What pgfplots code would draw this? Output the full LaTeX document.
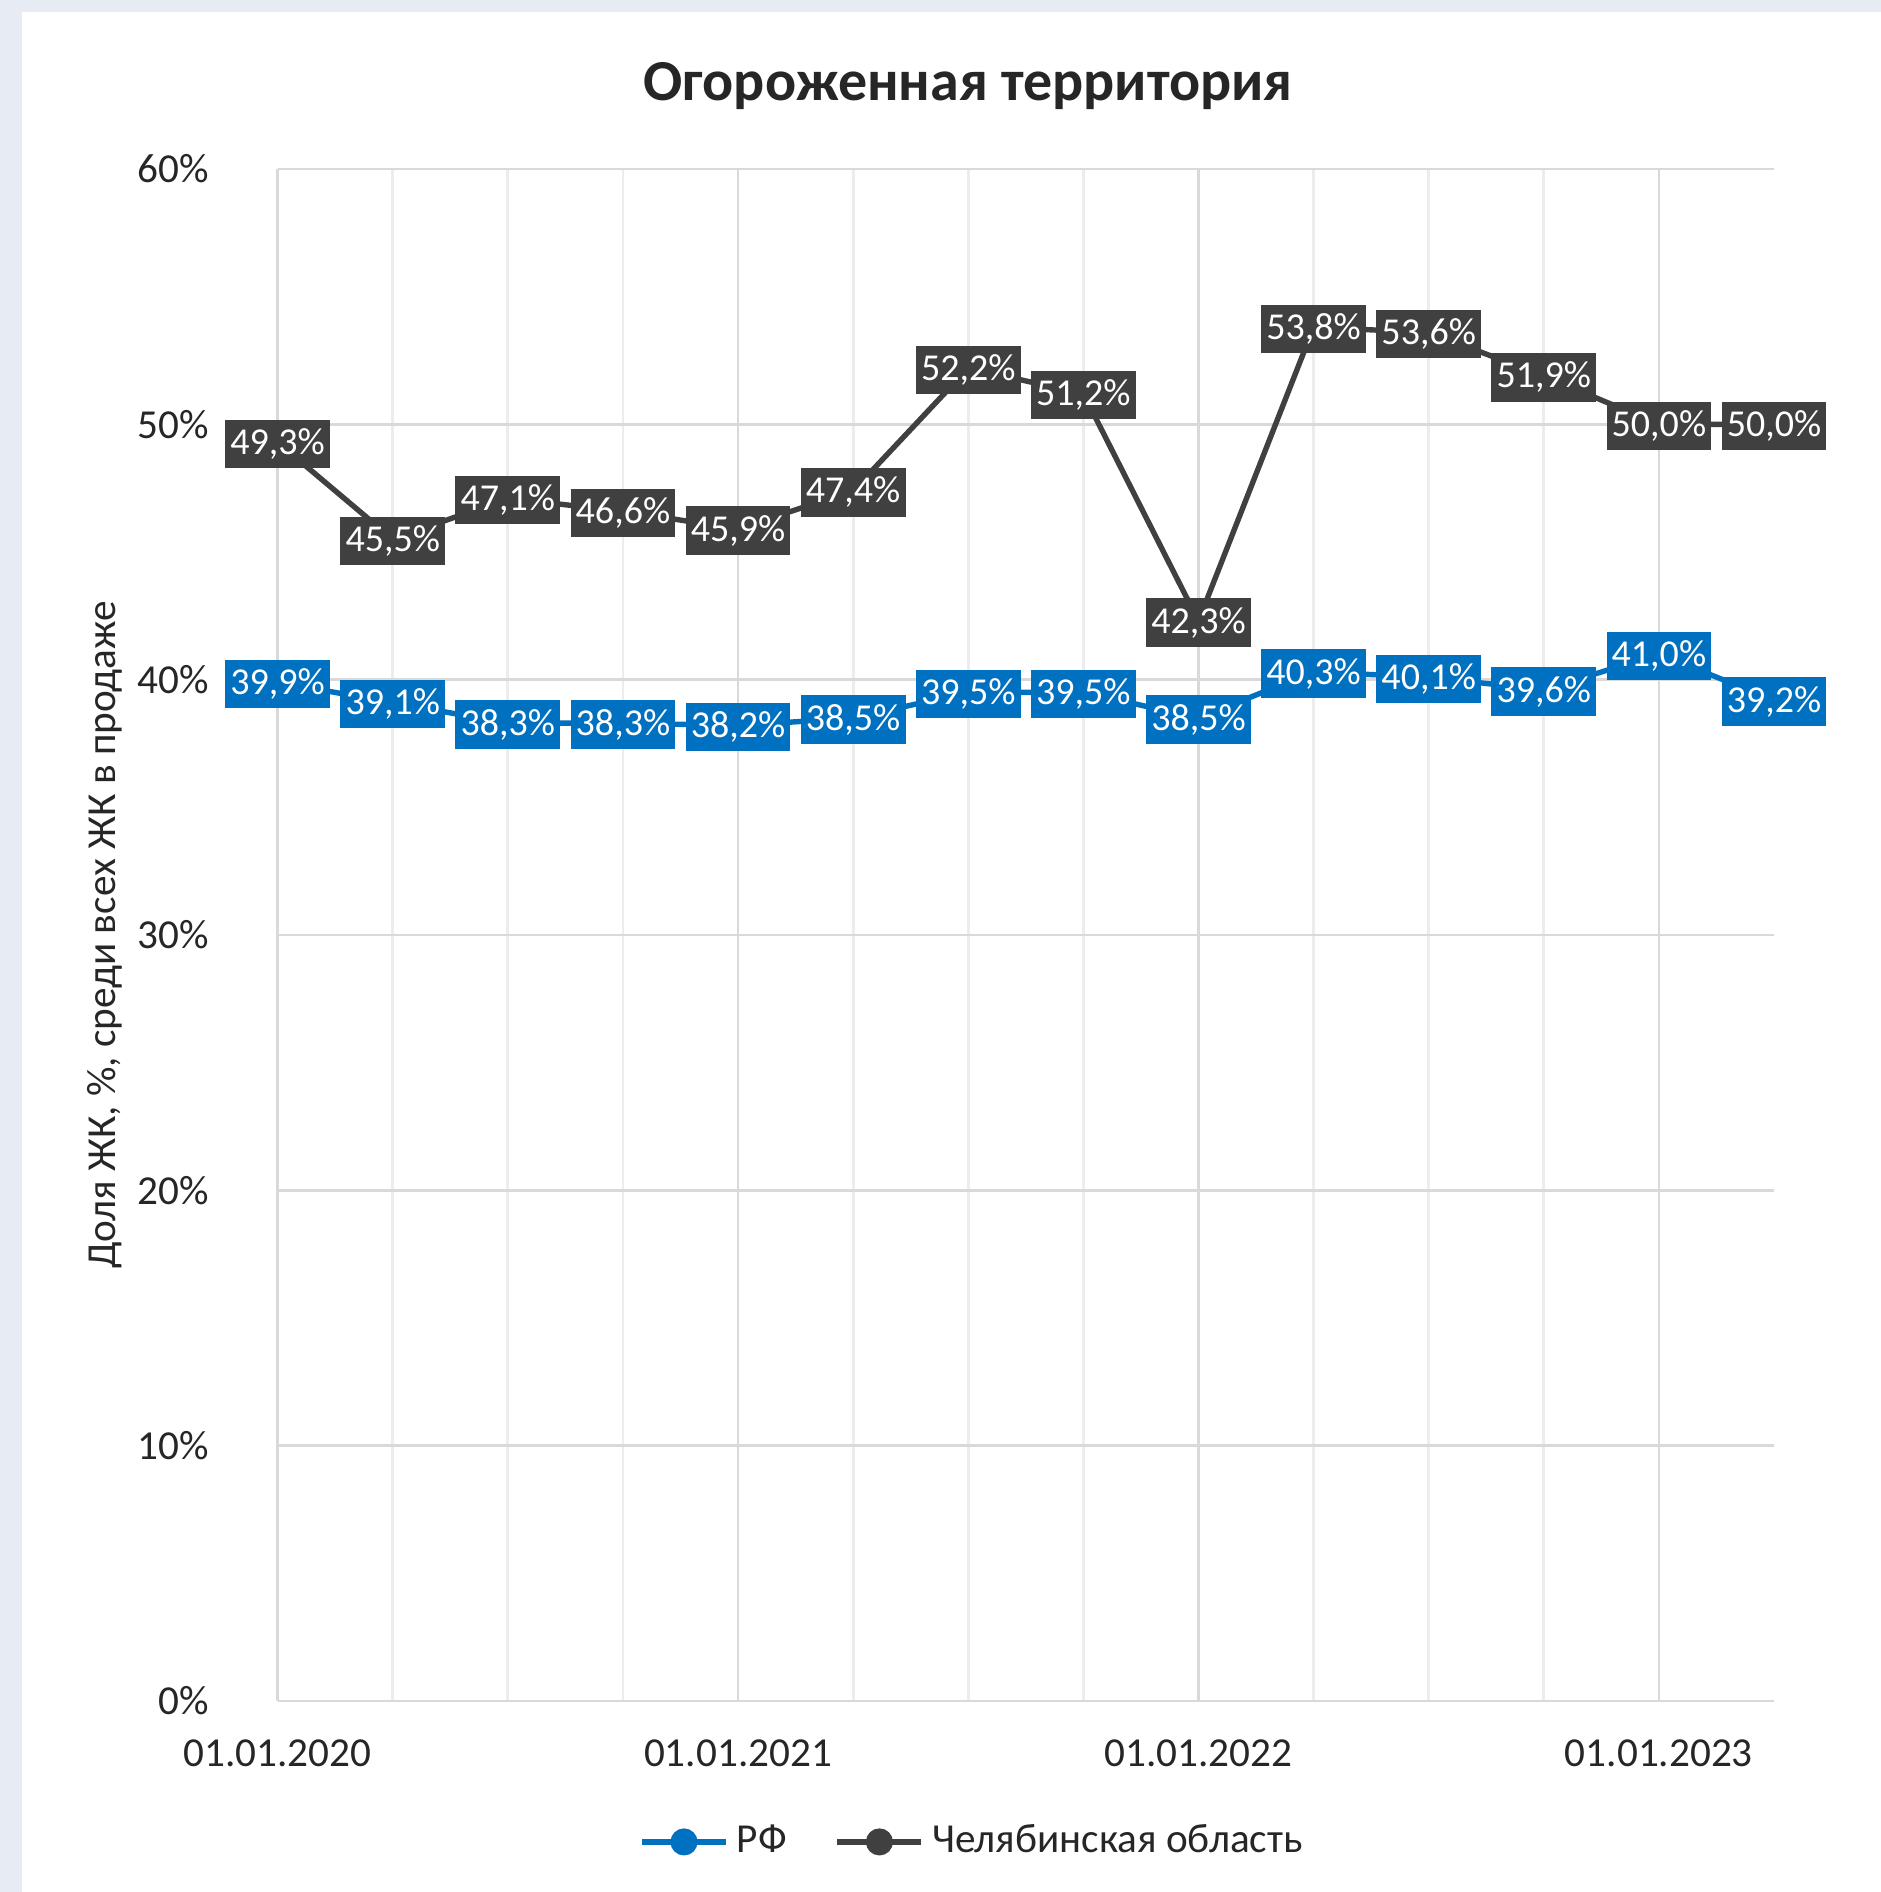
\documentclass[border=0pt]{standalone}
\usepackage{pgfplots}
\pgfplotsset{compat=1.18}
\usepackage{pgfplotstable}
\usepackage{fontspec}
\setmainfont{Carlito}

\definecolor{rfblue}{HTML}{0070C0}
\definecolor{cheldark}{HTML}{404040}
\definecolor{gridmaj}{HTML}{D9D9D9}
\definecolor{gridmin}{HTML}{EDEDED}
\definecolor{bgpanel}{HTML}{E7ECF4}
\definecolor{txt}{HTML}{262626}

% q: квартал (0 = 01.01.2020), rf: РФ, chel: Челябинская область
\pgfplotstableread{
q  rf    chel
0  39.9  49.3
1  39.1  45.5
2  38.3  47.1
3  38.3  46.6
4  38.2  45.9
5  38.5  47.4
6  39.5  52.2
7  39.5  51.2
8  38.5  42.3
9  40.3  53.8
10 40.1  53.6
11 39.6  51.9
12 41.0  50.0
13 39.2  50.0
}\fence

\begin{document}
\begin{tikzpicture}
\useasboundingbox (0,0) rectangle (470.25pt,473pt);
\fill[bgpanel] (0,0) rectangle (470.25pt,473pt);
\fill[white] (5.5pt,0) rectangle (470.25pt,470pt);
\node[font=\fontsize{14.5}{17}\selectfont\bfseries, text=txt] at (242pt,451.6pt) {Огороженная территория};
\begin{axis}[
  at={(69.4pt,47.75pt)}, anchor=south west,
  scale only axis, width=374.1pt, height=383pt,
  clip=false,
  xmin=0, xmax=13, ymin=0, ymax=60,
  xtick={0,4,8,12},
  xticklabels={01.01.2020,01.01.2021,01.01.2022,01.01.2023},
  minor x tick num=3,
  ytick={0,10,20,30,40,50,60},
  yticklabels={0\%,10\%,20\%,30\%,40\%,50\%,60\%},
  major tick length=0pt, minor tick length=0pt,
  grid=both,
  major grid style={gridmaj, line width=0.7pt},
  minor grid style={gridmin, line width=0.7pt},
  separate axis lines,
  x axis line style={gridmaj, line width=0.7pt},
  y axis line style={draw=none},
  ticklabel style={font=\fontsize{10.3}{12}\selectfont, text=txt},
  xticklabel style={anchor=center, yshift=-13pt},
  yticklabel style={anchor=east, inner sep=0pt, xshift=-17pt},
  ylabel={Доля ЖК, \%, среди всех ЖК в продаже},
  every axis y label/.style={at={(rel axis cs:-0.1153,0.5)}, rotate=90, anchor=center,
    font=\fontsize{10.3}{12}\selectfont, text=txt},
  legend columns=2,
  legend style={at={(0.466,-0.092)}, anchor=center, draw=none, fill=none,
    font=\fontsize{10.3}{12}\selectfont, text=txt,
    /tikz/every even column/.append style={column sep=10pt}},
  legend image code/.code={\draw[mark repeat=2, mark phase=2, #1]
    plot coordinates {(0pt,0pt) (10.5pt,0pt) (21pt,0pt)};},
  nodes near coords={\pgfmathprintnumber[fixed, fixed zerofill, precision=1, use comma, assume math mode=true]{\pgfplotspointmeta}\%},
]
\addplot[rfblue, line width=1.35pt, mark=*, mark size=2.7pt,
  every node near coord/.append style={anchor=center, fill=rfblue, text=white,
    font=\fontsize{9.5}{11}\selectfont, inner xsep=1.3pt, inner ysep=2.2pt, yshift=-0.4pt}]
  table[x=q, y=rf] {\fence};
\addlegendentry{РФ}
\addplot[cheldark, line width=1.35pt, mark=*, mark size=2.7pt,
  every node near coord/.append style={anchor=center, fill=cheldark, text=white,
    font=\fontsize{9.5}{11}\selectfont, inner xsep=1.3pt, inner ysep=2.2pt, yshift=-0.4pt}]
  table[x=q, y=chel] {\fence};
\addlegendentry{Челябинская область}
\end{axis}
\end{tikzpicture}
\end{document}
